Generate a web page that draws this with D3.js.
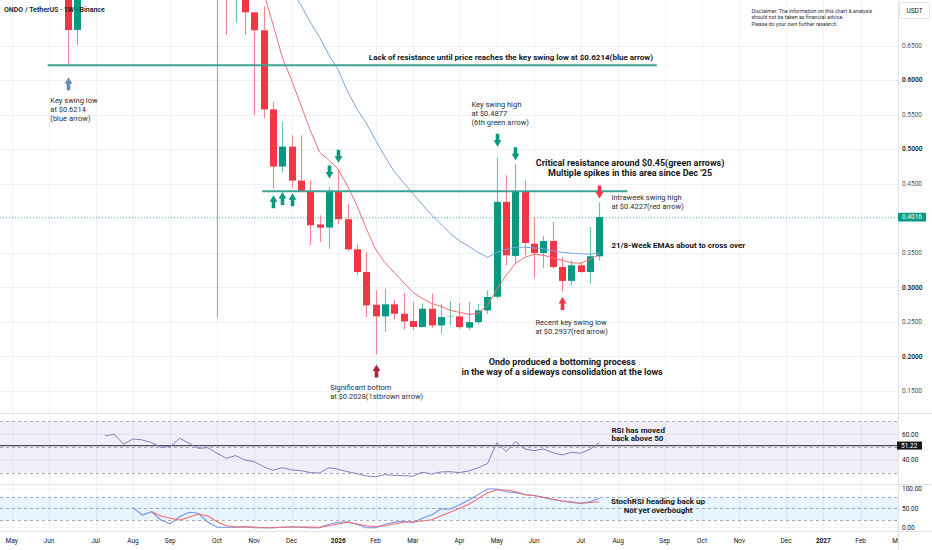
<!DOCTYPE html>
<html>
<head>
<meta charset="utf-8">
<script src="https://cdn.jsdelivr.net/npm/d3@7"></script>
<style>
  body { margin: 0; background: #fff; }
  svg { display: block; font-family: Roboto, "Noto Sans", sans-serif; }
</style>
</head>
<body>
<div id="chart"></div>
<script>
// ---- data (ONDO/USDT weekly) ----
var candleDates = ["2025-06-16","2025-06-23","2025-10-06","2025-10-13","2025-10-20","2025-10-27","2025-11-03","2025-11-10","2025-11-17","2025-11-24","2025-12-01","2025-12-08","2025-12-15","2025-12-22","2025-12-29","2026-01-05","2026-01-12","2026-01-19","2026-01-26","2026-02-02","2026-02-09","2026-02-16","2026-02-23","2026-03-02","2026-03-09","2026-03-16","2026-03-23","2026-03-30","2026-04-06","2026-04-13","2026-04-20","2026-04-27","2026-05-04","2026-05-11","2026-05-18","2026-05-25","2026-06-01","2026-06-08","2026-06-15","2026-06-22","2026-06-29","2026-07-06","2026-07-13","2026-07-20"];
var opens  = [0.780,0.6725,0.930,0.780,0.740,0.760,0.698,0.672,0.5575,0.4748,0.5037,0.4545,0.4396,0.391,0.3865,0.4391,0.3986,0.355,0.3222,0.2749,0.258,0.2754,0.2618,0.2512,0.2426,0.2691,0.2449,0.2585,0.258,0.2417,0.2497,0.2667,0.2864,0.4237,0.3455,0.4391,0.3632,0.3497,0.3671,0.3294,0.3093,0.3319,0.3222,0.345];
var highs  = [0.805,0.800,0.990,0.820,0.800,0.790,0.698,0.7068,0.5687,0.5396,0.520,0.520,0.455,0.4043,0.4454,0.4696,0.4212,0.3623,0.351,0.2957,0.298,0.282,0.2917,0.2778,0.2768,0.2909,0.2763,0.2802,0.2772,0.2787,0.2763,0.2957,0.4877,0.4623,0.478,0.455,0.401,0.374,0.395,0.3437,0.3391,0.3365,0.3874,0.4227];
var lows   = [0.6214,0.6507,0.2565,0.665,0.683,0.665,0.549,0.5445,0.443,0.467,0.445,0.4385,0.361,0.3657,0.356,0.3913,0.3527,0.3174,0.257,0.2028,0.2354,0.2536,0.239,0.239,0.242,0.2415,0.233,0.2449,0.2401,0.2386,0.2464,0.2617,0.284,0.3319,0.334,0.3464,0.314,0.3285,0.327,0.2937,0.3029,0.321,0.305,0.339];
var closes = [0.6725,0.760,0.780,0.740,0.760,0.698,0.672,0.5575,0.4748,0.5037,0.4545,0.4396,0.3899,0.3865,0.4391,0.3986,0.355,0.3222,0.2739,0.258,0.2754,0.2618,0.2507,0.2426,0.2691,0.2449,0.257,0.259,0.2425,0.2497,0.2667,0.286,0.4237,0.3464,0.4391,0.3642,0.3497,0.3671,0.3294,0.3093,0.3319,0.3222,0.345,0.4016];

// 8 and 21 week EMA, one value per week
var ema8Start = "2025-11-03";
var ema8 = [0.774,0.727,0.6812,0.6333,0.600,0.5638,0.5275,0.4957,0.4841,0.471,0.4464,0.4188,0.3855,0.3551,0.3362,0.3217,0.3072,0.2928,0.2841,0.2768,0.2725,0.2667,0.2638,0.2609,0.2623,0.2739,0.2971,0.3174,0.3348,0.3435,0.3478,0.3464,0.3428,0.3391,0.3355,0.3348,0.3406,0.3478];
var ema21Start = "2025-11-24";
var ema21 = [0.7522,0.7304,0.7087,0.684,0.662,0.6362,0.6145,0.5835,0.5584,0.538,0.513,0.4896,0.4678,0.4517,0.4357,0.4201,0.4046,0.3915,0.3780,0.3672,0.3594,0.3507,0.3435,0.3507,0.3551,0.358,0.358,0.3572,0.3558,0.3529,0.3507,0.3493,0.3486,0.3478,0.350];

var rsiStart = "2025-07-14";
var rsi = [58.9,60.0,52.3,56.4,55.6,53.5,49.9,50.4,56.9,53.0,49.1,49.6,45.3,41.4,43.4,40.0,38.7,34.8,32.0,34.0,32.3,31.7,30.2,29.9,34.0,32.8,30.9,29.4,27.6,27.0,28.6,28.1,27.8,27.4,30.5,29.1,30.7,30.9,30.2,31.5,34.0,37.2,53.5,46.5,54.3,48.6,47.3,48.6,45.7,43.9,46.0,45.3,48.4,53.5];
var rsiLevel = 51.22;

var stochKStart = "2025-08-04";
var stochK = [51.7,32.8,41.3,19.9,10.3,28.4,39.8,37.2,15.5,1.0,1.0,1.0,2.6,0,0,0,1.8,1.8,1.0,0,0,8.8,14.0,15.5,8.8,0,0,8.8,14.0,17.3,12.9,24.3,32.8,48.3,48.3,58.7,71.6,85.5,100,100,93.0,90.4,85.8,83.2,78.0,72.9,69.0,65.1,63.0,67.2,76.0];
var stochDStart = "2025-08-18";
var stochD = [41.3,30.2,24.3,19.9,26.9,34.6,31.0,15.5,5.2,1.8,2.6,1.8,0,0,1.0,1.8,1.8,1.8,1.0,5.2,9.6,14.0,9.6,5.2,2.6,5.2,9.6,14.0,15.5,17.3,20.7,30.2,39.8,50.1,60.5,75.2,90.4,97.4,97.4,93.5,85.3,83.2,78.6,73.4,69.0,66.9,63.0,65.1,67.2];

var priceTicks = [0.15,0.20,0.25,0.30,0.35,0.40,0.45,0.50,0.55,0.60,0.65];
var lastPrice = 0.4016;
var monthTicks  = ["2025-05-05","2025-06-02","2025-07-07","2025-08-04","2025-09-01","2025-10-06","2025-11-03","2025-12-01","2026-01-05","2026-02-02","2026-03-02","2026-04-06","2026-05-04","2026-06-01","2026-07-06","2026-08-03","2026-09-07","2026-10-05","2026-11-02","2026-12-07","2027-01-04","2027-02-01","2027-03-01"];
var monthLabels = ["May","Jun","Jul","Aug","Sep","Oct","Nov","Dec","2026","Feb","Mar","Apr","May","Jun","Jul","Aug","Sep","Oct","Nov","Dec","2027","Feb","Mar"];

// drawings: horizontal rays, arrows (tip price), text notes
var rays = [
  {from: "2025-06-01", to: "2026-09-01", price: 0.6214},
  {from: "2025-11-09", to: "2026-08-10", price: 0.4391}
];
var arrows = [
  {date: "2025-06-16", price: 0.6039, dir: "up",   kind: "blue"},
  {date: "2025-11-17", price: 0.4333, dir: "up",   kind: "green"},
  {date: "2025-11-24", price: 0.4380, dir: "up",   kind: "green"},
  {date: "2025-12-01", price: 0.4362, dir: "up",   kind: "green"},
  {date: "2025-12-29", price: 0.4575, dir: "down", kind: "green"},
  {date: "2026-01-05", price: 0.4802, dir: "down", kind: "green"},
  {date: "2026-05-04", price: 0.5034, dir: "down", kind: "green"},
  {date: "2026-05-18", price: 0.4840, dir: "down", kind: "green"},
  {date: "2026-07-20", price: 0.4286, dir: "down", kind: "red"},
  {date: "2026-06-22", price: 0.2859, dir: "up",   kind: "red"},
  {date: "2026-02-02", price: 0.1884, dir: "up",   kind: "brown"}
];
var notes = [
  {date: "2026-01-28", price: 0.6333, bold: true, lines: ["Lack of resistance until price reaches the key swing low at $0.6214(blue arrow)"]},
  {date: "2025-06-03", price: 0.5710, lines: ["Key swing low", "at $0.6214", "(blue arrow)"]},
  {date: "2026-04-15", price: 0.5652, lines: ["Key swing high", "at $0.4877", "(6th green arrow)"]},
  {date: "2026-08-12", price: 0.4807, bold: true, big: true, center: true, lines: ["Critical resistance around $0.45(green arrows)", "Multiple spikes in this area since Dec '25"]},
  {date: "2026-07-29", price: 0.4309, lines: ["Intraweek swing high", "at $0.4227(red arrow)"]},
  {date: "2026-07-29", price: 0.3609, bold: true, lines: ["21/8-Week EMAs about to cross over"]},
  {date: "2026-06-02", price: 0.2497, lines: ["Recent key swing low", "at $0.2937(red arrow)"]},
  {date: "2026-06-22", price: 0.1928, bold: true, big: true, center: true, lines: ["Ondo produced a bottoming process", "in the way of a sideways consolidation at the lows"]},
  {date: "2025-12-30", price: 0.1551, lines: ["Significant bottom", "at $0.2028(1stbrown arrow)"]}
];
var rsiNote   = {date: "2026-07-29", value: 63.4, lines: ["RSI has moved", "back above 50"]};
var stochNote = {date: "2026-09-02", value: 69, lines: ["StochRSI heading back up", "Not yet overbought"]};
var disclaimer = ["Disclaimer: The information on this chart & analysis", "should not be taken as financial advice.", "Please do your own further research."];

// ---- layout ----
var width = 932, height = 550, plotRight = 898;
var mainPanel = [0, 412], rsiPanel = [414, 483], stochPanel = [485, 531];
var upColor = "#089981", downColor = "#f23645";
var arrowColors = {blue: "#6b8db3", green: "#089981", red: "#f23645", brown: "#a8283a"};

var parse = d3.utcParse("%Y-%m-%d");
function weekly(start, values) {
  var s = parse(start);
  return values.map(function(v, i) { return {date: d3.utcDay.offset(s, 7 * i), v: v}; });
}

var x = d3.scaleUtc().domain([parse("2025-04-27"), parse("2027-03-01")]).range([1, plotRight]);
var y = d3.scaleLinear().domain([0.15, 0.65]).range([391, 45.5]);
var yRsi = d3.scaleLinear().domain([40, 60]).range([460, 434.3]);
var yStoch = d3.scaleLinear().domain([0, 100]).range([527.7, 489]);

var svg = d3.select("#chart").append("svg").attr("width", width).attr("height", height);
var defs = svg.append("defs");
function clip(id, p) {
  defs.append("clipPath").attr("id", id).append("rect")
    .attr("x", 0).attr("y", p[0]).attr("width", plotRight).attr("height", p[1] - p[0]);
  return "url(#" + id + ")";
}
var clipMain = clip("cm", mainPanel), clipRsi = clip("cr", rsiPanel), clipStoch = clip("cs", stochPanel);
defs.append("clipPath").attr("id", "cx").append("rect").attr("x", 0).attr("y", 531).attr("width", plotRight).attr("height", 19);

// grid
var grid = svg.append("g").attr("stroke", "#eef1f7").attr("stroke-width", 1);
monthTicks.forEach(function(d) {
  var xp = Math.round(x(parse(d))) + 0.5;
  grid.append("line").attr("x1", xp).attr("x2", xp).attr("y1", 0).attr("y2", 531);
});
priceTicks.forEach(function(v) {
  var yp = Math.round(y(v)) + 0.5;
  grid.append("line").attr("x1", 0).attr("x2", plotRight).attr("y1", yp).attr("y2", yp);
});
[60, 40].forEach(function(v) {
  grid.append("line").attr("x1", 0).attr("x2", plotRight).attr("y1", yRsi(v)).attr("y2", yRsi(v));
});
[100, 50, 0].forEach(function(v) {
  grid.append("line").attr("x1", 0).attr("x2", plotRight).attr("y1", yStoch(v)).attr("y2", yStoch(v));
});

// panel separators
var sep = svg.append("g").attr("stroke", "#e0e3eb").attr("stroke-width", 1);
[413.5, 484.5, 531.5].forEach(function(yp) {
  sep.append("line").attr("x1", 0).attr("x2", width).attr("y1", yp).attr("y2", yp);
});
sep.append("line").attr("x1", plotRight + 0.5).attr("x2", plotRight + 0.5).attr("y1", 0).attr("y2", 550);

// ---- main panel ----
var main = svg.append("g").attr("clip-path", clipMain);
var candles = candleDates.map(function(d, i) {
  return {date: parse(d), o: opens[i], h: highs[i], l: lows[i], c: closes[i]};
});
var cg = main.append("g");
cg.selectAll("line.wick").data(candles).enter().append("line")
  .attr("x1", function(d) { return Math.round(x(d.date)) + 0.5; })
  .attr("x2", function(d) { return Math.round(x(d.date)) + 0.5; })
  .attr("y1", function(d) { return y(d.h); })
  .attr("y2", function(d) { return y(d.l); })
  .attr("stroke", function(d) { return d.c >= d.o ? "#6cc4b4" : "#f58790"; })
  .attr("stroke-width", 1.2);
cg.selectAll("rect").data(candles).enter().append("rect")
  .attr("x", function(d) { return Math.round(x(d.date)) - 3; })
  .attr("width", 7)
  .attr("y", function(d) { return y(Math.max(d.o, d.c)); })
  .attr("height", function(d) { return Math.max(1, Math.abs(y(d.o) - y(d.c))); })
  .attr("fill", function(d) {
    if (Math.abs(d.c - d.o) < 0.001) return "#8fd3c6";
    return d.c >= d.o ? upColor : downColor;
  });

var priceLine = d3.line().x(function(d) { return x(d.date); }).y(function(d) { return y(d.v); });
main.append("path").datum(weekly(ema21Start, ema21)).attr("d", priceLine)
  .attr("fill", "none").attr("stroke", "#7ba3e0").attr("stroke-width", 1);
main.append("path").datum(weekly(ema8Start, ema8)).attr("d", priceLine)
  .attr("fill", "none").attr("stroke", "#f36e76").attr("stroke-width", 1);

// last price dotted line
main.append("line").attr("x1", 0).attr("x2", plotRight)
  .attr("y1", Math.round(y(lastPrice)) + 0.5).attr("y2", Math.round(y(lastPrice)) + 0.5)
  .attr("stroke", upColor).attr("stroke-opacity", 0.6).attr("stroke-dasharray", "1,2");

// horizontal rays
rays.forEach(function(r) {
  main.append("line").attr("x1", x(parse(r.from))).attr("x2", x(parse(r.to)))
    .attr("y1", y(r.price)).attr("y2", y(r.price))
    .attr("stroke", "#3fa392").attr("stroke-width", 1.8);
});

// block arrows
function arrowPath(cx, ty, dir) {
  var s = dir === "up" ? 1 : -1, hw = 3.9, sw = 1.8, hh = 6.5, len = 13;
  return "M" + cx + "," + ty +
    "L" + (cx + hw) + "," + (ty + s * hh) +
    "L" + (cx + sw) + "," + (ty + s * hh) +
    "L" + (cx + sw) + "," + (ty + s * len) +
    "L" + (cx - sw) + "," + (ty + s * len) +
    "L" + (cx - sw) + "," + (ty + s * hh) +
    "L" + (cx - hw) + "," + (ty + s * hh) + "Z";
}
arrows.forEach(function(a) {
  main.append("path").attr("d", arrowPath(Math.round(x(parse(a.date))) + 0.5, y(a.price), a.dir))
    .attr("fill", arrowColors[a.kind]);
});

// text notes
function writeNote(g, xp, yp, n, size, lh) {
  var t = g.append("text")
    .attr("font-size", size)
    .attr("font-weight", n.bold ? 700 : 400)
    .attr("fill", n.bold ? "#131722" : "#2a2e39")
    .attr("text-anchor", n.center ? "middle" : "start");
  n.lines.forEach(function(s, k) {
    t.append("tspan").attr("x", xp).attr("y", yp + k * lh).attr("dy", "0.35em").text(s);
  });
}
var noteLayer = svg.append("g");
notes.forEach(function(n) {
  var size = n.bold ? (n.big ? 9 : 8) : 7.5;
  var lh = n.bold ? 10.3 : 9;
  writeNote(noteLayer, x(parse(n.date)), y(n.price), n, size, lh);
});

// title
svg.append("text").attr("x", 4).attr("y", 10).attr("dy", "0.35em")
  .attr("font-size", 7).attr("font-weight", 600).attr("fill", "#131722")
  .text("ONDO / TetherUS \u00b7 1W \u00b7 Binance");

// disclaimer
var dis = svg.append("text").attr("font-size", 5.3).attr("fill", "#2a2e39");
disclaimer.forEach(function(s, k) {
  dis.append("tspan").attr("x", x(parse("2026-11-11"))).attr("y", 11 + k * 6.5).attr("dy", "0.35em").text(s);
});

// ---- RSI panel ----
var rsiG = svg.append("g").attr("clip-path", clipRsi);
rsiG.append("rect").attr("x", 0).attr("width", plotRight)
  .attr("y", yRsi(70)).attr("height", yRsi(30) - yRsi(70))
  .attr("fill", "#7e57c2").attr("fill-opacity", 0.1);
[70, 50, 30].forEach(function(v) {
  rsiG.append("line").attr("x1", 0).attr("x2", plotRight)
    .attr("y1", Math.round(yRsi(v)) + 0.5).attr("y2", Math.round(yRsi(v)) + 0.5)
    .attr("stroke", "#9598a1").attr("stroke-dasharray", "3,3").attr("stroke-width", 0.8);
});
rsiG.append("line").attr("x1", 0).attr("x2", plotRight)
  .attr("y1", yRsi(rsiLevel)).attr("y2", yRsi(rsiLevel))
  .attr("stroke", "#4a4d57").attr("stroke-width", 1.3);
rsiG.append("path").datum(weekly(rsiStart, rsi))
  .attr("d", d3.line().x(function(d) { return x(d.date); }).y(function(d) { return yRsi(d.v); }))
  .attr("fill", "none").attr("stroke", "#8a78c2").attr("stroke-width", 1);
writeNote(svg, x(parse(rsiNote.date)), yRsi(rsiNote.value), {bold: true, lines: rsiNote.lines}, 8, 8.5);

// ---- Stoch RSI panel ----
var stG = svg.append("g").attr("clip-path", clipStoch);
stG.append("rect").attr("x", 0).attr("width", plotRight)
  .attr("y", yStoch(80)).attr("height", yStoch(20) - yStoch(80))
  .attr("fill", "#2196f3").attr("fill-opacity", 0.1);
[80, 50, 20].forEach(function(v) {
  stG.append("line").attr("x1", 0).attr("x2", plotRight)
    .attr("y1", Math.round(yStoch(v)) + 0.5).attr("y2", Math.round(yStoch(v)) + 0.5)
    .attr("stroke", "#9598a1").attr("stroke-dasharray", "3,3").attr("stroke-width", 0.8);
});
var stochLine = d3.line().x(function(d) { return x(d.date); }).y(function(d) { return yStoch(d.v); });
stG.append("path").datum(weekly(stochKStart, stochK)).attr("d", stochLine)
  .attr("fill", "none").attr("stroke", "#6f93ea").attr("stroke-width", 1.1);
stG.append("path").datum(weekly(stochDStart, stochD)).attr("d", stochLine)
  .attr("fill", "none").attr("stroke", "#f26b6f").attr("stroke-width", 1.1);
writeNote(svg, x(parse(stochNote.date)), yStoch(stochNote.value), {bold: true, center: true, lines: stochNote.lines}, 8, 9);

// ---- axes ----
var axisG = svg.append("g").attr("font-size", 6.5);
priceTicks.forEach(function(v) {
  if (Math.abs(y(v) - y(lastPrice)) < 8) return;
  var major = Math.abs(v * 10 - Math.round(v * 10)) < 1e-6;
  axisG.append("text").attr("x", 902).attr("y", y(v)).attr("dy", "0.35em")
    .attr("fill", major ? "#131722" : "#50535e").attr("font-weight", major ? 600 : 400)
    .text(v.toFixed(4));
});
axisG.append("rect").attr("x", 898).attr("y", y(lastPrice) - 4.3).attr("width", 28).attr("height", 8.6)
  .attr("rx", 1).attr("fill", upColor);
axisG.append("text").attr("x", 902).attr("y", y(lastPrice)).attr("dy", "0.35em")
  .attr("fill", "#fff").text(lastPrice.toFixed(4));

axisG.append("rect").attr("x", 899.5).attr("y", 2.5).attr("width", 30).attr("height", 16)
  .attr("rx", 2).attr("fill", "#fff").attr("stroke", "#e0e3eb");
axisG.append("text").attr("x", 914.5).attr("y", 10.5).attr("dy", "0.35em")
  .attr("text-anchor", "middle").attr("fill", "#131722").text("USDT");

[60, 40].forEach(function(v) {
  axisG.append("text").attr("x", 902).attr("y", yRsi(v)).attr("dy", "0.35em")
    .attr("fill", "#131722").text(v.toFixed(2));
});
axisG.append("rect").attr("x", 897).attr("y", yRsi(rsiLevel) - 4).attr("width", 25).attr("height", 8)
  .attr("fill", "#131722");
axisG.append("text").attr("x", 901).attr("y", yRsi(rsiLevel)).attr("dy", "0.35em")
  .attr("fill", "#fff").text(rsiLevel.toFixed(2));
[100, 50, 0].forEach(function(v) {
  axisG.append("text").attr("x", 902).attr("y", yStoch(v)).attr("dy", "0.35em")
    .attr("fill", "#131722").text(v.toFixed(2));
});

var xAxisG = svg.append("g").attr("clip-path", "url(#cx)").attr("font-size", 6.5).attr("fill", "#131722");
monthTicks.forEach(function(d, i) {
  var isYear = /^\d{4}$/.test(monthLabels[i]);
  xAxisG.append("text").attr("x", x(parse(d))).attr("y", 541).attr("dy", "0.35em")
    .attr("text-anchor", "middle").attr("font-weight", isYear ? 700 : 400)
    .text(monthLabels[i]);
});
</script>
</body>
</html>
